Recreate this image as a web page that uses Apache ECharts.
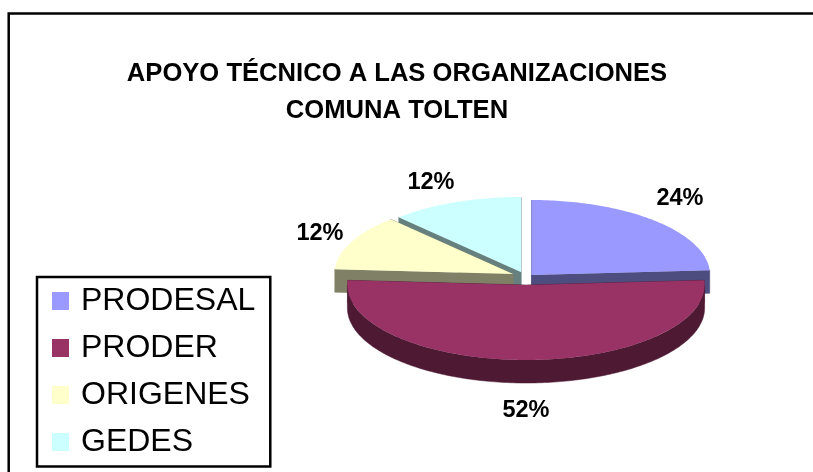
<!DOCTYPE html>
<html><head><meta charset="utf-8">
<style>html,body{margin:0;padding:0;background:#fff}#c{width:813px;height:472px}</style>
<script src="https://cdn.jsdelivr.net/npm/echarts@6/dist/echarts.min.js"></script>
</head><body><div id="c"></div>
<script>
var categories = ['PRODESAL', 'PRODER', 'ORIGENES', 'GEDES'];
var percentages = [24, 52, 12, 12];
var titleLines = ['APOYO TÉCNICO A LAS ORGANIZACIONES', 'COMUNA TOLTEN'];
var topColors = ['#9999ff', '#993366', '#ffffcc', '#ccffff'];
var sideColors = ['#4d4d80', '#4d1933', '#808066', '#668080'];
var sliceCentres = [[531.5, 275], [526, 285], [513, 274], [521, 272]];
var labelCentres = [[680, 199], [526, 411], [320, 234], [431, 183]];
var paintOrder = [3, 4, 2, 1];
var RX = 178.6, RY = 75, DEPTH = 23;

var total = percentages.reduce(function (a, b) { return a + b; }, 0);
function pt(c, deg, dy) {
  var a = deg * Math.PI / 180;
  return [c[0] + RX * Math.sin(a), c[1] - RY * Math.cos(a) + (dy || 0)];
}
function makeSlice(idx) {
  return function (params, api) {
    var before = percentages.slice(0, idx).reduce(function (a, b) { return a + b; }, 0);
    var start = before / total * 360;
    var end = (before + api.value(0)) / total * 360;
    var c = sliceCentres[idx];
    var top = [c], rimTop = [], rimBottom = [], children = [];
    for (var d = start; d < end; d += 1) top.push(pt(c, d));
    top.push(pt(c, end));
    function sideStyle() { return { fill: sideColors[idx], stroke: sideColors[idx], lineWidth: 0.5 }; }
    function quad(a, b) {
      return { type: 'polygon', shape: { points: [a, b, [b[0], b[1] + DEPTH], [a[0], a[1] + DEPTH]] }, style: sideStyle() };
    }
    children.push(quad(c, pt(c, start)));
    children.push(quad(c, pt(c, end)));
    var from = Math.max(start, 90), to = Math.min(end, 270);
    if (to > from) {
      for (var e = from; e < to; e += 1) { rimTop.push(pt(c, e)); rimBottom.unshift(pt(c, e, DEPTH)); }
      rimTop.push(pt(c, to)); rimBottom.unshift(pt(c, to, DEPTH));
      children.push({ type: 'polygon', shape: { points: rimTop.concat(rimBottom) }, style: sideStyle() });
    }
    children.push({ type: 'polygon', shape: { points: top }, style: { fill: topColors[idx] } });
    children.push({ type: 'text', x: labelCentres[idx][0], y: labelCentres[idx][1],
      style: { text: api.value(0) + '%', fontFamily: 'Liberation Sans', fontWeight: 'bold', fontSize: 23.5,
        fill: '#000', align: 'center', verticalAlign: 'middle' } });
    return { type: 'group', children: children };
  };
}
var series = categories.map(function (name, i) {
  return { name: name, type: 'custom', coordinateSystem: 'none', z: paintOrder[i] + 2,
    itemStyle: { color: topColors[i] }, data: [[percentages[i]]], renderItem: makeSlice(i), silent: true };
});
var chart = echarts.init(document.getElementById('c'), null, { renderer: 'canvas' });
chart.setOption({
  animation: false,
  backgroundColor: '#fff',
  title: { text: titleLines.join('\n'), left: 392, top: 50, textAlign: 'center',
    textStyle: { fontFamily: 'Liberation Sans', fontWeight: 'bold', fontSize: 25.6, lineHeight: 37, color: '#000' } },
  legend: { orient: 'vertical', left: 37, top: 277, height: 400, data: categories, icon: 'rect', itemWidth: 17, itemHeight: 18,
    itemGap: 15, padding: [8, 15, 8.5, 15], borderColor: '#000', borderWidth: 2.5, backgroundColor: '#fff',
    selectedMode: false, textStyle: { fontFamily: 'Liberation Sans', fontSize: 32, color: '#000', padding: [0, 0, 0, 7] } },
  graphic: [{ type: 'rect', z: -1, shape: { x: 8.7, y: 13.5, width: 900, height: 600 },
    style: { fill: '#fff', stroke: '#000', lineWidth: 2.5 } }],
  series: series
});
</script></body></html>
